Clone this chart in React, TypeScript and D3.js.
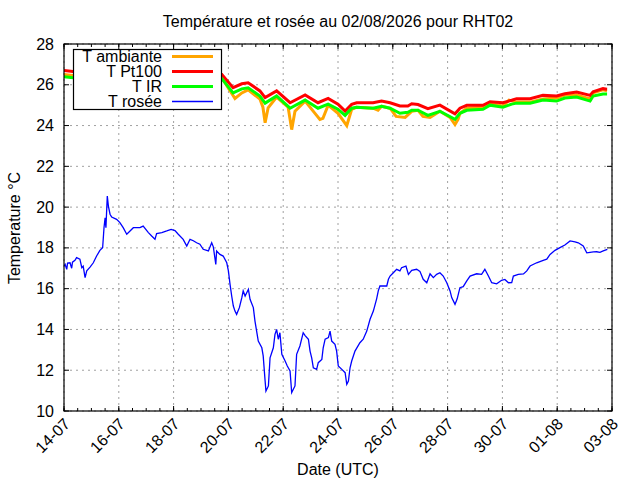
import React from 'react';
import * as d3 from 'd3';

// times are days since 14-07-2026 00:00 UTC
const pt100: [number, number][] = [
  [0, 26.7], [0.33, 26.65], [1.5, 26.7], [3, 26.7], [4.5, 26.6], [5.76, 26.51],
  [6.17, 25.86], [6.49, 26.05], [6.72, 26.1], [7.15, 25.7], [7.34, 25.37], [7.76, 25.7],
  [8.25, 25.12], [8.8, 25.5], [9.27, 25.12], [9.64, 25.33], [10.0, 25.05], [10.26, 24.71],
  [10.5, 25.04], [10.68, 25.12], [11.28, 25.12], [11.59, 25.2], [11.9, 25.12], [12.26, 24.96],
  [12.55, 24.96], [12.69, 25.07], [12.92, 25.03], [13.28, 24.83], [13.72, 25.0], [14.27, 24.58],
  [14.45, 24.85], [14.7, 24.99], [15.29, 24.99], [15.55, 25.17], [16.02, 25.12], [16.34, 25.24],
  [16.52, 25.32], [17.01, 25.32], [17.48, 25.48], [17.98, 25.45], [18.28, 25.56], [18.71, 25.64],
  [19.2, 25.48], [19.31, 25.66], [19.67, 25.81], [19.82, 25.78],
];

const infrared: [number, number][] = [
  [0, 26.4], [0.33, 26.35], [1.5, 26.4], [3, 26.4], [4.5, 26.35], [5.76, 26.3],
  [6.17, 25.6], [6.49, 25.8], [6.72, 25.85], [7.15, 25.45], [7.34, 25.1], [7.76, 25.45],
  [8.25, 24.85], [8.8, 25.25], [9.27, 24.85], [9.64, 25.05], [10.0, 24.8], [10.26, 24.5],
  [10.5, 24.85], [10.68, 24.9], [11.28, 24.85], [11.59, 24.95], [11.9, 24.85], [12.26, 24.6],
  [12.55, 24.65], [12.69, 24.75], [12.92, 24.75], [13.28, 24.5], [13.72, 24.7], [14.27, 24.3],
  [14.45, 24.6], [14.7, 24.75], [15.29, 24.8], [15.55, 25.0], [16.02, 24.9], [16.34, 25.05],
  [16.52, 25.1], [17.01, 25.1], [17.48, 25.25], [17.98, 25.2], [18.28, 25.35], [18.71, 25.4],
  [19.2, 25.2], [19.31, 25.45], [19.67, 25.55], [19.82, 25.55],
];

const ambient: [number, number][] = [
  [0, 26.5], [0.33, 26.45], [1.5, 26.5], [3, 26.5], [4.5, 26.45], [5.76, 26.35],
  [6.24, 25.33], [6.49, 25.6], [6.72, 25.75], [7.15, 25.3], [7.26, 24.9], [7.34, 24.14],
  [7.45, 24.87], [7.76, 25.4], [8.18, 24.9], [8.31, 23.8], [8.43, 24.7], [8.8, 25.2],
  [9.16, 24.6], [9.34, 24.3], [9.45, 24.35], [9.64, 25.0], [10.0, 24.6], [10.32, 24.0],
  [10.5, 24.8], [10.68, 24.9], [11.28, 24.85], [11.46, 24.75], [11.59, 24.95], [11.9, 24.85],
  [12.12, 24.45], [12.45, 24.4], [12.69, 24.7], [12.92, 24.75], [13.1, 24.45], [13.36, 24.4],
  [13.72, 24.7], [14.09, 24.4], [14.27, 24.05], [14.38, 24.3], [14.45, 24.6], [14.7, 24.85],
  [15.29, 24.9], [15.55, 25.1], [16.02, 24.95], [16.24, 25.25], [16.52, 25.15], [17.01, 25.15],
  [17.48, 25.3], [17.98, 25.35], [18.28, 25.5], [18.71, 25.5], [19.2, 25.3], [19.31, 25.6],
  [19.67, 25.75], [19.82, 25.7],
];

const dewPoint: [number, number][] = [
  [0.0, 17.1], [0.04, 17.19], [0.1, 16.95], [0.13, 17.25], [0.22, 17.27], [0.28, 17.0], [0.31, 17.3],
  [0.4, 17.39], [0.46, 17.52], [0.58, 17.45], [0.65, 17.03], [0.7, 17.1], [0.77, 16.54],
  [0.83, 16.87], [0.95, 17.06], [1.07, 17.27], [1.19, 17.6], [1.31, 17.88], [1.41, 18.01],
  [1.46, 18.99], [1.5, 19.48], [1.53, 18.99], [1.58, 20.54], [1.62, 20.05], [1.68, 19.65],
  [1.74, 19.51], [1.92, 19.4], [2.04, 19.24], [2.16, 18.99], [2.29, 18.67], [2.41, 18.83],
  [2.53, 18.99], [2.77, 18.99], [2.89, 19.07], [3.08, 18.75], [3.2, 18.58], [3.32, 18.42],
  [3.38, 18.7], [3.57, 18.75], [3.75, 18.83], [3.91, 18.91], [4.05, 18.85], [4.17, 18.67],
  [4.35, 18.42], [4.48, 18.09], [4.6, 18.42], [4.72, 18.35], [4.84, 18.25], [4.96, 18.18],
  [5.08, 17.93], [5.27, 17.85], [5.39, 18.25], [5.45, 18.05], [5.54, 17.19], [5.57, 17.85],
  [5.69, 17.68], [5.81, 17.6], [5.94, 17.27], [6.0, 16.87], [6.06, 16.21], [6.12, 15.64],
  [6.18, 15.15], [6.24, 14.9], [6.3, 14.74], [6.4, 15.07], [6.49, 15.56], [6.54, 15.89],
  [6.61, 15.64], [6.73, 15.97], [6.79, 15.48], [6.91, 15.07], [6.97, 14.41], [7.03, 13.92],
  [7.09, 13.43], [7.22, 13.1], [7.27, 12.7], [7.34, 11.47], [7.37, 10.98], [7.46, 11.23],
  [7.52, 12.61], [7.64, 13.1], [7.7, 13.76], [7.76, 14.0], [7.82, 13.52], [7.88, 13.84],
  [7.95, 12.78], [8.07, 12.45], [8.15, 12.21], [8.25, 11.96], [8.31, 10.9], [8.43, 11.23],
  [8.49, 12.78], [8.61, 13.19], [8.73, 13.84], [8.8, 13.7], [8.92, 13.52], [8.98, 12.94],
  [9.04, 12.61], [9.1, 12.12], [9.22, 12.04], [9.28, 12.37], [9.41, 12.53], [9.46, 13.1],
  [9.53, 13.52], [9.65, 13.6], [9.71, 13.92], [9.77, 13.43], [9.89, 13.27], [9.95, 12.94],
  [10.01, 12.21], [10.14, 12.04], [10.26, 11.88], [10.32, 11.31], [10.38, 11.47], [10.44, 12.12],
  [10.5, 12.45], [10.62, 12.94], [10.8, 13.35], [10.92, 13.52], [11.05, 13.92], [11.17, 14.5],
  [11.29, 14.9], [11.41, 15.5], [11.47, 15.89], [11.53, 16.13], [11.78, 16.13], [11.84, 16.46],
  [11.9, 16.62], [12.02, 16.78], [12.14, 16.95], [12.26, 16.87], [12.32, 17.03], [12.48, 17.11],
  [12.57, 16.7], [12.69, 16.9], [12.87, 16.95], [12.99, 16.85], [13.11, 16.46], [13.24, 16.29],
  [13.36, 16.73], [13.48, 16.54], [13.6, 16.7], [13.72, 16.78], [13.84, 16.62], [13.97, 16.29],
  [14.09, 15.89], [14.15, 15.56], [14.27, 15.23], [14.35, 15.5], [14.45, 16.05], [14.57, 16.1],
  [14.7, 16.38], [14.82, 16.62], [15.06, 16.73], [15.24, 16.7], [15.36, 16.95], [15.49, 16.62],
  [15.61, 16.29], [15.79, 16.24], [15.97, 16.41], [16.09, 16.45], [16.22, 16.29], [16.34, 16.3],
  [16.4, 16.62], [16.58, 16.7], [16.77, 16.72], [16.89, 16.87], [17.01, 17.11], [17.25, 17.27],
  [17.49, 17.39], [17.62, 17.45], [17.74, 17.68], [17.92, 17.88], [18.1, 18.01], [18.28, 18.14],
  [18.47, 18.34], [18.65, 18.3], [18.77, 18.25], [18.95, 18.09], [19.08, 17.76], [19.2, 17.78],
  [19.32, 17.8], [19.44, 17.81], [19.56, 17.78], [19.68, 17.85], [19.83, 17.93],
];

const yTicks = [10, 12, 14, 16, 18, 20, 22, 24, 26, 28];

const series = [
  { name: 'T ambiante', data: ambient, color: '#ffa500', width: 3 },
  { name: 'T Pt100', data: pt100, color: '#ff0000', width: 3 },
  { name: 'T IR', data: infrared, color: '#00ff00', width: 3 },
  { name: 'T rosée', data: dewPoint, color: '#0000ff', width: 1.3 },
];

const W = 640;
const H = 480;
const margin = { top: 44, right: 28, bottom: 69, left: 64 };
const FONT = '"Liberation Sans", Arial, sans-serif';

const start = new Date(Date.UTC(2026, 6, 14));
const end = new Date(Date.UTC(2026, 7, 3));
const toDate = (d: number) => new Date(start.getTime() + d * 86400000);

export default function App() {
  const x = d3.scaleUtc().domain([start, end]).range([margin.left, W - margin.right]);
  const y = d3.scaleLinear().domain([10, 28]).range([H - margin.bottom, margin.top]);
  const x0 = margin.left;
  const x1 = W - margin.right;
  const y0 = H - margin.bottom;
  const y1 = margin.top;

  // every 2 days from the first day, every 12 h for minor ticks
  const majorX = d3.utcDay.range(start, d3.utcHour.offset(end, 1), 2);
  const minorX = d3.utcHour.range(start, d3.utcHour.offset(end, 1), 12);
  const fmt = d3.utcFormat('%d-%m');

  const line = d3.line<[number, number]>()
    .x(d => x(toDate(d[0])))
    .y(d => y(d[1]));

  const grid = { stroke: '#a0a0a0', strokeWidth: 1, strokeDasharray: '2,4' };

  return (
    <svg width={W} height={H} fontFamily={FONT}
      style={{ display: 'block', position: 'absolute', left: 0, top: 0, background: '#fff' }}>
      <defs>
        <clipPath id="plot">
          <rect x={x0} y={y1} width={x1 - x0} height={y0 - y1} />
        </clipPath>
      </defs>
      <rect x={0} y={0} width={W} height={H} fill="#fff" />

      {/* grid */}
      {majorX.map(d => (
        <line key={'gx' + d.getTime()} x1={x(d)} x2={x(d)} y1={y0} y2={y1} {...grid} />
      ))}
      {yTicks.map(t => (
        <line key={'gy' + t} x1={x0} x2={x1} y1={y(t)} y2={y(t)} {...grid} />
      ))}

      {/* data */}
      <g clipPath="url(#plot)">
        {series.map(s => (
          <path key={s.name} d={line(s.data) || ''} fill="none" stroke={s.color}
            strokeWidth={s.width} strokeLinejoin="miter" />
        ))}
      </g>

      {/* ticks */}
      {minorX.map(d => (
        <g key={'mx' + d.getTime()}>
          <line x1={x(d)} x2={x(d)} y1={y0} y2={y0 - 3} stroke="#000" />
          <line x1={x(d)} x2={x(d)} y1={y1} y2={y1 + 3} stroke="#000" />
        </g>
      ))}
      {majorX.map(d => (
        <g key={'tx' + d.getTime()}>
          <line x1={x(d)} x2={x(d)} y1={y0} y2={y0 - 5} stroke="#000" />
          <line x1={x(d)} x2={x(d)} y1={y1} y2={y1 + 5} stroke="#000" />
          <text transform={`translate(${x(d) + 3},${y0 + 10}) rotate(-45)`} textAnchor="end"
            fontSize={16} dy="0.35em" fill="#000">{fmt(d)}</text>
        </g>
      ))}
      {yTicks.map(t => (
        <g key={'ty' + t}>
          <line x1={x0} x2={x0 + 5} y1={y(t)} y2={y(t)} stroke="#000" />
          <line x1={x1} x2={x1 - 5} y1={y(t)} y2={y(t)} stroke="#000" />
          <text x={x0 - 10} y={y(t)} dy="0.35em" textAnchor="end" fontSize={16} fill="#000">{t}</text>
        </g>
      ))}

      <rect x={x0} y={y1} width={x1 - x0} height={y0 - y1} fill="none" stroke="#000" strokeWidth={1.2} />

      {/* legend */}
      <g>
        <rect x={73.5} y={49.5} width={148} height={60} fill="#fff" stroke="#000" strokeWidth={1.2} />
        {series.map((s, i) => (
          <g key={'lg' + s.name}>
            <text x={162} y={56.5 + i * 15} dy="0.35em" textAnchor="end" fontSize={16} fill="#000">{s.name}</text>
            <line x1={172} x2={213} y1={56.5 + i * 15} y2={56.5 + i * 15} stroke={s.color}
              strokeWidth={s.width === 3 ? 3 : 1.3} />
          </g>
        ))}
      </g>

      {/* titles */}
      <text x={(x0 + x1) / 2} y={27} textAnchor="middle" fontSize={16} fill="#000">
        Température et rosée au 02/08/2026 pour RHT02
      </text>
      <text x={(x0 + x1) / 2} y={475} textAnchor="middle" fontSize={16} fill="#000">Date (UTC)</text>
      <text transform={`translate(14,228) rotate(-90)`} textAnchor="middle" dy="0.35em" fontSize={16} fill="#000">
        Temperature °C
      </text>
    </svg>
  );
}
